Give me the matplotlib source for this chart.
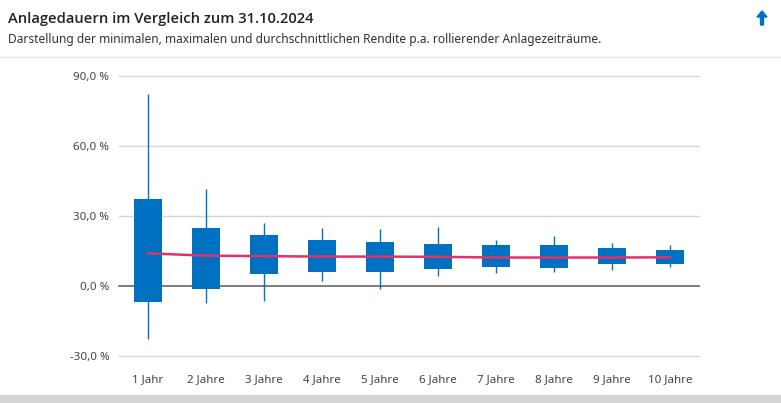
import matplotlib.pyplot as plt
from matplotlib.patches import FancyArrow
from matplotlib.transforms import IdentityTransform

plt.rcParams['font.family'] = ['Noto Sans', 'DejaVu Sans']

categories = ['1 Jahr', '2 Jahre', '3 Jahre', '4 Jahre', '5 Jahre',
              '6 Jahre', '7 Jahre', '8 Jahre', '9 Jahre', '10 Jahre']
min_vals = [-22.9, -7.4, -6.3, 2.3, -1.1, 4.4, 5.7, 6.1, 6.9, 8.3]
box_low = [-6.7, -1.3, 5.3, 6.0, 6.1, 7.3, 8.1, 7.7, 9.4, 9.4]
box_high = [37.3, 25.0, 21.9, 19.7, 18.9, 18.0, 17.6, 17.6, 16.3, 15.4]
max_vals = [82.4, 41.4, 26.9, 24.7, 24.6, 25.1, 19.6, 21.3, 18.3, 17.4]
mean_vals = [14.0, 13.0, 12.8, 12.6, 12.6, 12.5, 12.2, 12.2, 12.2, 12.3]
y_ticks = [-30, 0, 30, 60, 90]

blue = '#0070c0'
pink = '#e5306b'

fig = plt.figure(figsize=(7.81, 4.03), dpi=100)
ax = fig.add_axes([119 / 781, 1 - 356 / 403, 580 / 781, 280 / 403])

x = list(range(len(categories)))
ax.vlines(x, min_vals, max_vals, color=blue, linewidth=1.0, zorder=3)
heights = [h - l for h, l in zip(box_high, box_low)]
ax.bar(x, heights, bottom=box_low, width=0.49, color=blue, zorder=4)
ax.plot(x, mean_vals, color=pink, linewidth=1.8, zorder=5)

ax.set_xlim(-0.5, len(categories) - 0.5)
ax.set_ylim(-30, 90)
ax.set_yticks(y_ticks)
ax.set_yticklabels([f'{v:.1f}'.replace('.', ',') + ' %' for v in y_ticks])
ax.set_xticks(x)
ax.set_xticklabels(categories)
ax.tick_params(axis='both', length=0, labelsize=8.3, colors='#444444')
ax.tick_params(axis='y', pad=7)
ax.tick_params(axis='x', pad=13)
for v in y_ticks:
    if v == 0:
        ax.axhline(v, color='#666666', linewidth=1.2, zorder=2, clip_on=False)
    else:
        ax.axhline(v, color='#d6d6d6', linewidth=1.0, zorder=1, clip_on=False)
for s in ax.spines.values():
    s.set_visible(False)

fig.text(8 / 781, 1 - 19 / 403, 'Anlagedauern im Vergleich zum 31.10.2024',
         fontsize=10.6, fontweight='semibold', color='#222222', va='center',
         family=['Open Sans', 'DejaVu Sans'])
fig.text(8 / 781, 1 - 40 / 403,
         'Darstellung der minimalen, maximalen und durchschnittlichen Rendite p.a. rollierender Anlagezeiträume.',
         fontsize=8.6, color='#333333', va='center')
# up arrow in the top right corner (pixel coordinates)
fig.add_artist(FancyArrow(762, 403 - 25, 0, 14, width=3, head_width=10,
                          head_length=6, length_includes_head=True,
                          color=blue, transform=IdentityTransform()))
fig.add_artist(plt.Line2D([0, 1], [1 - 57 / 403] * 2, color='#e2e2e2', linewidth=1))
fig.add_artist(plt.Rectangle((0, 0), 1, 8 / 403, color='#d4d4d4', linewidth=0))

fig.savefig('out.png', dpi=100)
